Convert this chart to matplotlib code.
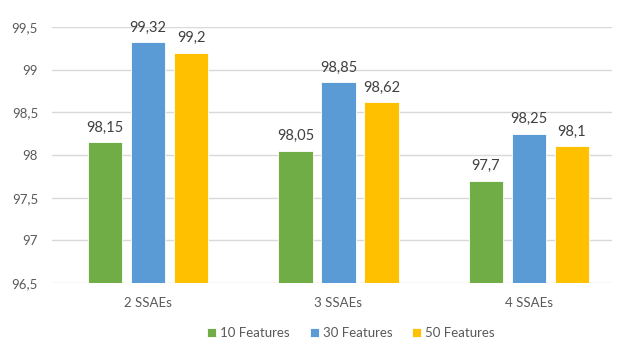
import matplotlib.pyplot as plt
import numpy as np

categories = ['2 SSAEs', '3 SSAEs', '4 SSAEs']
feat10 = [98.15, 98.05, 97.7]
feat30 = [99.32, 98.85, 98.25]
feat50 = [99.2, 98.62, 98.1]
series_names = ['10 Features', '30 Features', '50 Features']
colors = ['#70AD47', '#5B9BD5', '#FFC000']
yticks = [96.5, 97, 97.5, 98, 98.5, 99, 99.5]

plt.rcParams['font.family'] = ['Lato', 'DejaVu Sans']
txt = '#595959'


def fmt(v):
    return f"{v:g}".replace('.', ',')


fig = plt.figure(figsize=(6.17, 3.41), dpi=100)
ax = fig.add_axes([52 / 617, 1 - 283 / 341, 560 / 617, 256 / 341])

x = np.arange(len(categories))
step = 0.226
width = 0.18
for k, (vals, name, c) in enumerate(zip([feat10, feat30, feat50], series_names, colors)):
    xs = x + (k - 1) * step
    ax.bar(xs, np.array(vals) - 96.5, width, bottom=96.5, color=c,
           edgecolor='white', linewidth=0.6, label=name, zorder=3)
    for xi, v in zip(xs, vals):
        ax.text(xi, v + 0.09, fmt(v), ha='center', va='bottom', fontsize=10.5,
                color='#404040', clip_on=False)

ax.set_ylim(96.5, 99.5)
ax.set_xlim(-0.504, 2.436)
ax.set_yticks(yticks)
ax.set_yticklabels([fmt(t) for t in yticks])
ax.set_xticks(x)
ax.set_xticklabels(categories)
ax.tick_params(axis='both', length=0, labelsize=9.5, colors=txt)
ax.tick_params(axis='y', pad=10)
ax.tick_params(axis='x', pad=10)
ax.grid(axis='y', color='#D9D9D9', linewidth=1, zorder=0)
for s in ax.spines.values():
    s.set_visible(False)

fig.legend(loc='center', bbox_to_anchor=(351 / 617, 1 - 333 / 341), ncol=3,
           frameon=False, fontsize=9.5, handlelength=0.7, handleheight=0.7,
           handletextpad=0.3, columnspacing=1.5, labelcolor=txt)

fig.savefig('out.png', dpi=100)
